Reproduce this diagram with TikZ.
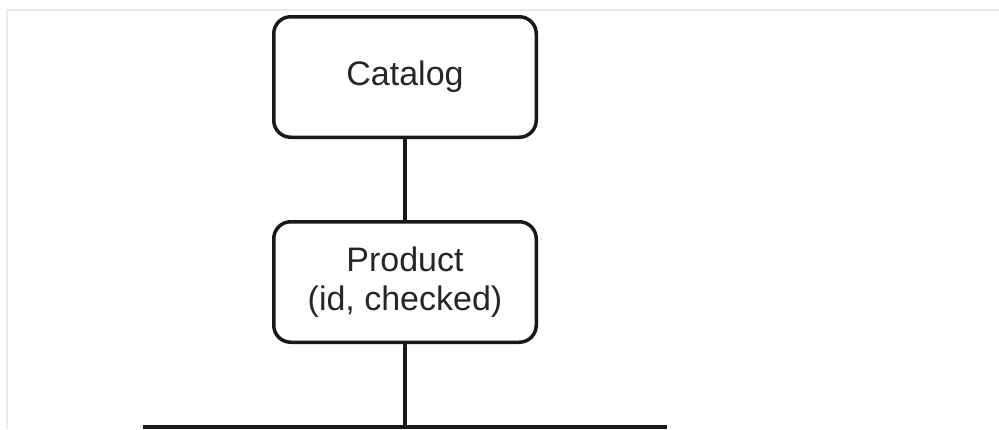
\documentclass[tikz,border=0pt]{standalone}
\usepackage{fontspec}
\setmainfont{Liberation Sans}
\begin{document}
\begin{tikzpicture}[x=1pt,y=-1pt,
  entity/.style={draw=black!90, line width=3.5pt, rounded corners=17pt,
    minimum width=262.5pt, minimum height=120.5pt, inner sep=0pt,
    align=center, font=\fontsize{34}{39}\selectfont, text=black!85},
  link/.style={draw=black!90, line width=3.5pt},
  frame/.style={draw=black!8, line width=1.5pt}]
  \useasboundingbox (0,0) rectangle (999,429);
  % faint page frame
  \draw[frame] (7,429) -- (7,10) -- (999,10);
  % entity boxes
  \node[entity] (catalog) at (405,77) {Catalog};
  \node[entity] (product) at (405,282) {Product\\(id, checked)};
  % tree connectors
  \coordinate (fork) at (405,427);
  \coordinate (busL) at (143,427);
  \coordinate (busR) at (667,427);
  \draw[link] (catalog.south) -- (product.north);
  \draw[link] (product.south) -- (fork);
  \draw[link, line width=4.5pt] (busL) -- (busR);
\end{tikzpicture}
\end{document}
